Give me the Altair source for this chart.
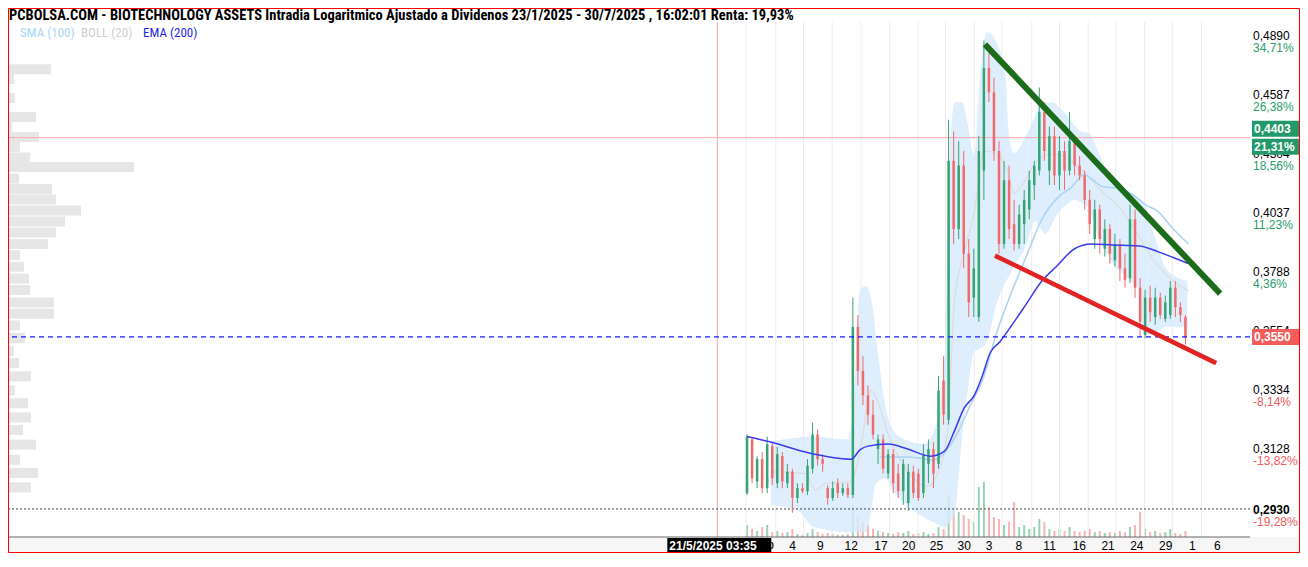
import altair as alt
import pandas as pd

TITLE = ("PCBOLSA.COM - BIOTECHNOLOGY ASSETS Intradia Logaritmico Ajustado a Dividenos "
         "23/1/2025 - 30/7/2025 , 16:02:01 Renta: 19,93%")
LEGEND_TEXT = ["SMA (100)", "BOLL (20)", "EMA (200)"]
LEGEND_COLORS = ["#a9d4f5", "#cfcfcf", "#2727e8"]
LEGEND_X = [12, 73, 135]

# ---- candles (one bar per half trading day) ----
OPEN = [0.2999,0.3178,0.3037,0.3111,0.3015,0.3155,0.3031,0.3121,0.3031,0.3069,
        0.2983,0.3015,0.3005,0.3079,0.3195,0.3111,0.3015,0.2983,0.3031,0.2999,
        0.3015,0.2993,0.3589,0.3422,0.3333,0.3264,0.3145,0.3178,0.3063,0.3128,
        0.3063,0.3005,0.2967,0.3069,0.3063,0.2999,0.3095,0.3145,0.3095,0.3386,
        0.3246,0.4294,0.3989,0.4272,0.3884,0.3704,0.3627,0.4249,0.4747,0.4624,
        0.4340,0.3925,0.4205,0.4010,0.3925,0.4010,0.4074,0.4183,0.4249,0.4527,
        0.4249,0.4410,0.4227,0.4340,0.4249,0.4386,0.4272,0.4227,0.4117,0.3946,
        0.4074,0.3905,0.3989,0.3856,0.3925,0.3823,0.3783,0.4031,0.3744,0.3558,
        0.3704,0.3627,0.3704,0.3620,0.3635,0.3744,0.3666,0.3627]
HIGH = [0.3195,0.3185,0.3121,0.3135,0.3188,0.3168,0.3152,0.3135,0.3095,0.3079,
        0.3031,0.3031,0.3111,0.3236,0.3212,0.3128,0.3025,0.3037,0.3047,0.3031,
        0.3031,0.3704,0.3635,0.3477,0.3369,0.3316,0.3195,0.3195,0.3145,0.3145,
        0.3095,0.3111,0.3095,0.3089,0.3079,0.3162,0.3178,0.3168,0.3404,0.3477,
        0.4489,0.4433,0.4386,0.4340,0.3946,0.3905,0.4410,0.4890,0.4824,0.4698,
        0.4386,0.4294,0.4272,0.4117,0.4095,0.4161,0.4249,0.4294,0.4648,0.4575,
        0.4456,0.4456,0.4410,0.4386,0.4527,0.4410,0.4317,0.4249,0.4161,0.4117,
        0.4095,0.4031,0.4010,0.3968,0.3946,0.3884,0.4095,0.4074,0.3783,0.3736,
        0.3752,0.3744,0.3724,0.3712,0.3771,0.3771,0.3685,0.3635]
LOW = [0.2993,0.3031,0.3015,0.2999,0.2999,0.3025,0.3015,0.3015,0.3015,0.2936,
       0.2967,0.2999,0.2993,0.3063,0.3089,0.3069,0.2961,0.2974,0.2983,0.2990,
       0.2983,0.2983,0.3369,0.3298,0.3229,0.3178,0.3095,0.3063,0.3047,0.2999,
       0.2983,0.2961,0.2942,0.2983,0.2974,0.2983,0.3031,0.3015,0.3079,0.3229,
       0.3229,0.3925,0.3946,0.3823,0.3627,0.3627,0.3608,0.4117,0.4575,0.4294,
       0.3884,0.3905,0.3946,0.3897,0.3905,0.3925,0.4031,0.4117,0.4227,0.4294,
       0.4183,0.4183,0.4161,0.4161,0.4227,0.4227,0.4205,0.4074,0.3968,0.3905,
       0.3884,0.3872,0.3843,0.3831,0.3771,0.3744,0.3763,0.3704,0.3551,0.3544,
       0.3608,0.3597,0.3620,0.3608,0.3620,0.3627,0.3608,0.3521]
CLOSE = [0.3188,0.3047,0.3111,0.3015,0.3162,0.3047,0.3128,0.3037,0.3069,0.2983,
         0.3015,0.3005,0.3089,0.3195,0.3111,0.3095,0.2983,0.3015,0.2999,0.3015,
         0.2993,0.3589,0.3422,0.3333,0.3264,0.3195,0.3178,0.3079,0.3128,0.3031,
         0.3005,0.3095,0.3069,0.2999,0.2983,0.3128,0.3145,0.3063,0.3351,0.3264,
         0.4294,0.3989,0.4272,0.3884,0.3685,0.3823,0.4340,0.4747,0.4624,0.4340,
         0.3925,0.4205,0.3989,0.3925,0.4052,0.4117,0.4205,0.4272,0.4527,0.4340,
         0.4410,0.4227,0.4340,0.4249,0.4386,0.4272,0.4227,0.4117,0.4010,0.4074,
         0.3946,0.3989,0.3884,0.3925,0.3823,0.3775,0.4031,0.3744,0.3608,0.3704,
         0.3646,0.3704,0.3635,0.3685,0.3744,0.3666,0.3635,0.3547]
VOLUME = [240,160,120,200,240,100,120,80,100,160,
          60,40,80,160,100,60,80,60,40,40,
          60,640,400,300,240,160,120,100,80,60,
          100,80,120,60,80,100,60,80,200,160,
          840,560,500,440,360,300,1000,1100,600,400,
          360,240,300,700,200,240,160,200,360,300,
          160,120,160,120,200,120,100,120,160,100,
          120,80,100,80,120,100,200,240,500,160,
          100,120,80,100,160,80,60,120]

# ---- indicators ----
EMA_X = [0, 4.9, 11.6, 20.7, 22.4, 24.0, 28.0, 31.9, 36.4, 39.2, 41.1, 43.1, 45.1, 46.7,
         48.2, 50.2, 52.6, 55.5, 58.5, 61.4, 65.0, 68.3, 72.6, 77.8, 81.5, 84.6, 87.6]
EMA_V = [0.3188,0.3168,0.3135,0.3111,0.3142,0.3155,0.3162,0.3145,0.3121,0.3138,0.3205,
         0.3288,0.3333,0.3404,0.3488,0.3532,0.3597,0.3681,0.3771,0.3831,0.3905,0.3925,
         0.3921,0.3917,0.3893,0.3868,0.3843]
SMA_X = [26.4,31.9,37.2,39.8,42.1,44.3,46.7,49.6,52.6,55.1,58.5,61.8,64.4,66.9,68.7,
         70.7,73.6,76.6,79.1,81.5,84.6,87.6]
SMA_V = [0.3118,0.3118,0.3108,0.3145,0.3212,0.3298,0.3386,0.3570,0.3732,0.3856,0.4031,
         0.4130,0.4174,0.4231,0.4205,0.4174,0.4170,0.4139,0.4095,0.4066,0.3989,0.3925]
BAND_X = [4.7,10.2,13.2,20.1,21.3,22.4,23.6,24.6,25.6,27.4,29.3,32.3,35.2,37.2,39.2,
          40.2,41.3,42.7,43.7,45.1,46.3,47.6,49.6,51.2,52.0,53.0,55.5,57.1,58.1,59.1,
          60.8,61.8,63.4,65.0,66.3,67.9,69.9,72.6,74.8,76.6,77.6,78.7,81.1,83.1,87.4]
BAND_UP = [0.3172,0.3185,0.3188,0.3178,0.3333,0.3732,0.3752,0.3704,0.3551,0.3298,
           0.3202,0.3172,0.3162,0.3212,0.3477,0.4317,0.4575,0.4575,0.4480,0.4317,
           0.4722,0.4936,0.4875,0.4722,0.4410,0.4331,0.4419,0.4503,0.4561,0.4570,
           0.4575,0.4551,0.4513,0.4461,0.4433,0.4424,0.4326,0.4205,0.4161,0.4143,
           0.4126,0.4108,0.3946,0.3823,0.3771]
BAND_LO = [0.2961,0.2942,0.2890,0.2875,0.2875,0.2875,0.2875,0.2936,0.3031,0.3047,
           0.2999,0.2952,0.2921,0.2905,0.2890,0.2905,0.2942,0.3195,0.3333,0.3495,
           0.3506,0.3532,0.3685,0.3763,0.3791,0.3831,0.3925,0.4023,0.3997,0.3968,
           0.4023,0.4061,0.4095,0.4117,0.4104,0.4074,0.3946,0.3843,0.3795,0.3763,
           0.3744,0.3558,0.3566,0.3589,0.3589]
MID_X = [4.7,11.6,13.6,15.6,20.7,22.6,24.6,26.0,28.0,31.3,35.8,37.8,39.8,41.1,43.1,
         45.1,47.0,49.6,51.6,53.0,54.9,57.5,60.8,63.4,65.9,67.9,70.7,73.8,77.2,80.5,
         85.6,87.6]
MID_V = [0.3069,0.3063,0.3009,0.3031,0.3037,0.3152,0.3351,0.3308,0.3195,0.3085,
         0.3021,0.3063,0.3205,0.3677,0.3893,0.4061,0.4340,0.4326,0.4249,0.4148,
         0.4192,0.4294,0.4326,0.4308,0.4263,0.4218,0.4148,0.4087,0.3976,0.3864,
         0.3755,0.3732]

GREEN_TL_X = [47.2, 93.9]
GREEN_TL_V = [0.4870, 0.3720]
RED_TL_X = [49.2, 93.1]
RED_TL_V = [0.3876, 0.3451]

# ---- left volume profile ----
PROFILE_PRICE = [0.4762,0.4712,0.4614,0.4518,0.4468,0.4419,0.4372,0.4321,0.4276,0.4222,
                 0.4174,0.4126,0.4076,0.4027,0.3978,0.3928,0.3880,0.3831,0.3781,0.3734,
                 0.3683,0.3637,0.3591,0.3542,0.3490,0.3446,0.3395,0.3343,0.3296,0.3245,
                 0.3200,0.3149,0.3097,0.3052,0.3004]
PROFILE_VOL = [43,6,7,28,4,31,12,22,126,11,44,48,73,57,48,40,12,16,21,22,
               46,46,12,17,6,11,23,7,20,23,15,28,12,30,23]

# ---- axes ----
TICK_PRICES = [0.4890,0.4587,0.4304,0.4037,0.3788,0.3554,0.3334,0.3128,0.2930]
TICK_PCT = ["34,71%","26,38%","18,56%","11,23%","4,36%","","-8,14%","-13,82%","-19,28%"]
XTICK_POS = [9.06,14.57,20.67,26.57,32.09,37.60,43.11,48.03,53.94,60.04,65.94,71.65,
             77.36,83.07,88.39,93.31]
XTICK_LAB = ["4","9","12","17","20","25","30","3","8","11","16","21","24","29","1","6"]
VGRID_X = [-0.2,5.7,11.2,16.9,22.6,28.3,33.9,39.4,45.1,50.6,56.5,62.0,67.7,73.2,78.9,84.4,90.2]

CROSS_X = -5.9
CROSS_LABEL = "21/5/2025 03:35"
MARK_PRICE = 0.4403
MARK_PRICE_TXT = "0,4403"
MARK_PCT = "21,31%"
LAST_PRICE = 0.3550
LAST_TXT = "0,3550"
MIN_LINE = 0.2948

UP, DOWN = "#35a373", "#f06a6a"
NARROW = "Liberation Sans Narrow, Roboto Condensed, DejaVu Sans Condensed, Arial Narrow, sans-serif"
SANS = "Liberation Sans, Arial, sans-serif"

W, H = 1242, 515
xs = alt.Scale(domain=[-145.67, 98.82], nice=False, zero=False)
ys = alt.Scale(type="log", domain=[0.2860, 0.4989], nice=False, zero=False)

one = pd.DataFrame({"a": [0]})
cdf = pd.DataFrame({"i": list(range(len(OPEN))), "o": OPEN, "h": HIGH, "l": LOW,
                    "c": CLOSE, "v": VOLUME})
cdf["dir"] = ["up" if c >= o else "down" for o, c in zip(OPEN, CLOSE)]
col = alt.Color("dir:N", scale=alt.Scale(domain=["up", "down"], range=[UP, DOWN]), legend=None)


def X(f):
    return alt.X(f, scale=xs, axis=None)


def Y(f):
    return alt.Y(f, scale=ys, axis=None)


bg_bottom = alt.Chart(one).mark_rect(color="#f6f6f6").encode(
    x=alt.value(0), x2=alt.value(W + 50), y=alt.value(H), y2=alt.value(H + 16))

bottom_line = alt.Chart(one).mark_rule(color="#666666").encode(
    x=alt.value(0), x2=alt.value(W), y=alt.value(H))

vgrid = alt.Chart(pd.DataFrame({"x": VGRID_X})).mark_rule(color="#ececec").encode(x=X("x:Q"))

band = alt.Chart(pd.DataFrame({"x": BAND_X, "up": BAND_UP, "lo": BAND_LO})).mark_area(
    color="#d6eafb", opacity=0.8, interpolate="monotone").encode(
    x=X("x:Q"), y=Y("up:Q"), y2="lo:Q")

pink = alt.Chart(pd.DataFrame({"p": [MARK_PRICE]})).mark_rule(color="#ffa8a8").encode(y=Y("p:Q"))
cross = alt.Chart(pd.DataFrame({"x": [CROSS_X]})).mark_rule(color="#f4a0a0").encode(x=X("x:Q"))
minl = alt.Chart(pd.DataFrame({"p": [MIN_LINE]})).mark_rule(
    color="#444444", strokeDash=[2, 2]).encode(y=Y("p:Q"))

mid = alt.Chart(pd.DataFrame({"x": MID_X, "v": MID_V})).mark_line(
    color="#dcdcdc", strokeWidth=1.2, interpolate="monotone").encode(x=X("x:Q"), y=Y("v:Q"))
sma = alt.Chart(pd.DataFrame({"x": SMA_X, "v": SMA_V})).mark_line(
    color="#a9d4f5", strokeWidth=1.5, interpolate="monotone").encode(x=X("x:Q"), y=Y("v:Q"))

yaxis = alt.Axis(orient="right", values=TICK_PRICES, labels=False, ticks=False, domain=True,
                 domainColor="#000000", grid=True, gridColor="#ebebeb", title=None)

wicks = alt.Chart(cdf).mark_rule(strokeWidth=1).encode(
    x=X("i:Q"), y=alt.Y("l:Q", scale=ys, axis=yaxis), y2="h:Q", color=col)
bodies = alt.Chart(cdf).mark_bar(size=2.5).encode(x=X("i:Q"), y=Y("o:Q"), y2="c:Q", color=col)

ema = alt.Chart(pd.DataFrame({"x": EMA_X, "v": EMA_V})).mark_line(
    color="#3b3bef", strokeWidth=1.5, interpolate="monotone").encode(x=X("x:Q"), y=Y("v:Q"))

lastl = alt.Chart(pd.DataFrame({"p": [LAST_PRICE]})).mark_rule(
    color="#1a1aff", strokeDash=[5, 4], strokeWidth=1.3).encode(y=Y("p:Q"))

gtl = alt.Chart(pd.DataFrame({"x": GREEN_TL_X, "v": GREEN_TL_V})).mark_line(
    color="#1b6c1b", strokeWidth=6, strokeCap="butt").encode(x=X("x:Q"), y=Y("v:Q"))
rtl = alt.Chart(pd.DataFrame({"x": RED_TL_X, "v": RED_TL_V})).mark_line(
    color="#e02424", strokeWidth=4.5, strokeCap="butt").encode(x=X("x:Q"), y=Y("v:Q"))

xlab = alt.Chart(pd.DataFrame({"x": XTICK_POS, "t": XTICK_LAB})).mark_text(
    align="center", baseline="middle", fontSize=12, font=SANS, color="#000000").encode(
    x=X("x:Q"), y=alt.value(H + 9), text="t:N")

tdf = pd.DataFrame({"p": TICK_PRICES,
                    "t": [f"{v:.4f}".replace(".", ",") for v in TICK_PRICES],
                    "pct": TICK_PCT,
                    "pc": ["#2a9d6c" if not s.startswith("-") else "#f05a5a" for s in TICK_PCT],
                    "b": [i == len(TICK_PRICES) - 1 for i in range(len(TICK_PRICES))]})
plab = alt.Chart(tdf).transform_filter("!datum.b").mark_text(
    align="left", baseline="middle", dy=-5, fontSize=12, font=SANS, color="#000000").encode(
    x=alt.value(W + 3), y=Y("p:Q"), text="t:N")
plab_b = alt.Chart(tdf).transform_filter("datum.b").mark_text(
    align="left", baseline="middle", dy=-5, fontSize=12, font=SANS, fontWeight="bold",
    color="#000000").encode(x=alt.value(W + 3), y=Y("p:Q"), text="t:N")
pctlab = alt.Chart(tdf).mark_text(align="left", baseline="middle", dy=7, fontSize=12,
                                  font=SANS).encode(
    x=alt.value(W + 3), y=Y("p:Q"), text="pct:N", color=alt.Color("pc:N", scale=None))

mdf = pd.DataFrame({"p": [MARK_PRICE], "t1": [MARK_PRICE_TXT], "t2": [MARK_PCT]})
box1 = alt.Chart(mdf).mark_rect(color="#23996b", yOffset=-17, y2Offset=-1).encode(
    x=alt.value(W + 2), x2=alt.value(W + 50), y=Y("p:Q"), y2="p:Q")
box2 = alt.Chart(mdf).mark_rect(color="#23996b", yOffset=1, y2Offset=17).encode(
    x=alt.value(W + 2), x2=alt.value(W + 50), y=Y("p:Q"), y2="p:Q")
btxt1 = alt.Chart(mdf).mark_text(align="left", baseline="middle", dy=-9, fontSize=12,
                                 font=SANS, color="white", fontWeight="bold").encode(
    x=alt.value(W + 4), y=Y("p:Q"), text="t1:N")
btxt2 = alt.Chart(mdf).mark_text(align="left", baseline="middle", dy=9, fontSize=12,
                                 font=SANS, color="white", fontWeight="bold").encode(
    x=alt.value(W + 4), y=Y("p:Q"), text="t2:N")

ldf = pd.DataFrame({"p": [LAST_PRICE], "t": [LAST_TXT]})
rbox = alt.Chart(ldf).mark_rect(color="#f25d5a", yOffset=-8, y2Offset=8).encode(
    x=alt.value(W + 2), x2=alt.value(W + 50), y=Y("p:Q"), y2="p:Q")
rtxt = alt.Chart(ldf).mark_text(align="left", baseline="middle", fontSize=12, font=SANS,
                                color="white", fontWeight="bold").encode(
    x=alt.value(W + 4), y=Y("p:Q"), text="t:N")

cdf2 = pd.DataFrame({"x": [CROSS_X], "t": [CROSS_LABEL], "p": ["p"]})
cbox = alt.Chart(cdf2).mark_rect(color="#000000", xOffset=-50, x2Offset=54).encode(
    x=X("x:Q"), x2="x:Q", y=alt.value(H + 1), y2=alt.value(H + 16))
ctxt = alt.Chart(cdf2).mark_text(align="left", baseline="middle", dx=-48, fontSize=12,
                                 font=SANS, fontWeight="bold", color="white").encode(
    x=X("x:Q"), y=alt.value(H + 9), text="t:N")
ctxt2 = alt.Chart(cdf2).mark_text(align="left", baseline="middle", dx=50, fontSize=12,
                                  font=SANS, color="#000000").encode(
    x=X("x:Q"), y=alt.value(H + 8), text="p:N")

legdf = pd.DataFrame({"t": LEGEND_TEXT, "c": LEGEND_COLORS, "lx": LEGEND_X})
legend = alt.Chart(legdf).mark_text(align="left", baseline="middle", fontSize=13,
                                    font=NARROW).encode(
    x=alt.X("lx:Q", scale=None), y=alt.value(11), text="t:N",
    color=alt.Color("c:N", scale=None))

title = alt.Chart(pd.DataFrame({"t": [TITLE]})).mark_text(
    align="left", baseline="alphabetic", fontSize=14.5, fontWeight="bold", font=NARROW,
    color="#000000").encode(x=alt.value(1), y=alt.value(-2), text="t:N")

border = alt.Chart(one).mark_rect(fillOpacity=0, stroke="#ff0000", strokeWidth=1).encode(
    x=alt.value(0.5), x2=alt.value(W + 49.5), y=alt.value(-13.5), y2=alt.value(H + 15.5))

main = alt.layer(bg_bottom, vgrid, band, pink, cross, minl, mid, sma, wicks, bodies, ema,
                 lastl, gtl, rtl, bottom_line, xlab, plab, plab_b, pctlab, box1, box2, btxt1,
                 btxt2, rbox, rtxt, cbox, ctxt, ctxt2, legend, title, border)

vol = alt.Chart(cdf).mark_bar(size=2, opacity=0.5).encode(
    x=X("i:Q"),
    y=alt.Y("v:Q", scale=alt.Scale(domain=[0, 10300], nice=False), axis=None),
    color=col)

prof = alt.Chart(pd.DataFrame({"price": PROFILE_PRICE, "vol": PROFILE_VOL})).mark_bar(
    size=10, orient="horizontal", color="#e6e6e6").encode(
    x=alt.X("vol:Q", scale=alt.Scale(domain=[0, W], nice=False, zero=True), axis=None),
    y=Y("price:Q"))

chart = alt.layer(prof, vol, main).resolve_scale(x="independent", y="independent").properties(
    width=W, height=H,
    padding={"left": 0, "top": 14, "right": 50, "bottom": 16},
    autosize=alt.AutoSizeParams(type="none"),
).configure_view(strokeWidth=0)

chart.save("out.html", embed_options={"renderer": "svg", "actions": False})
